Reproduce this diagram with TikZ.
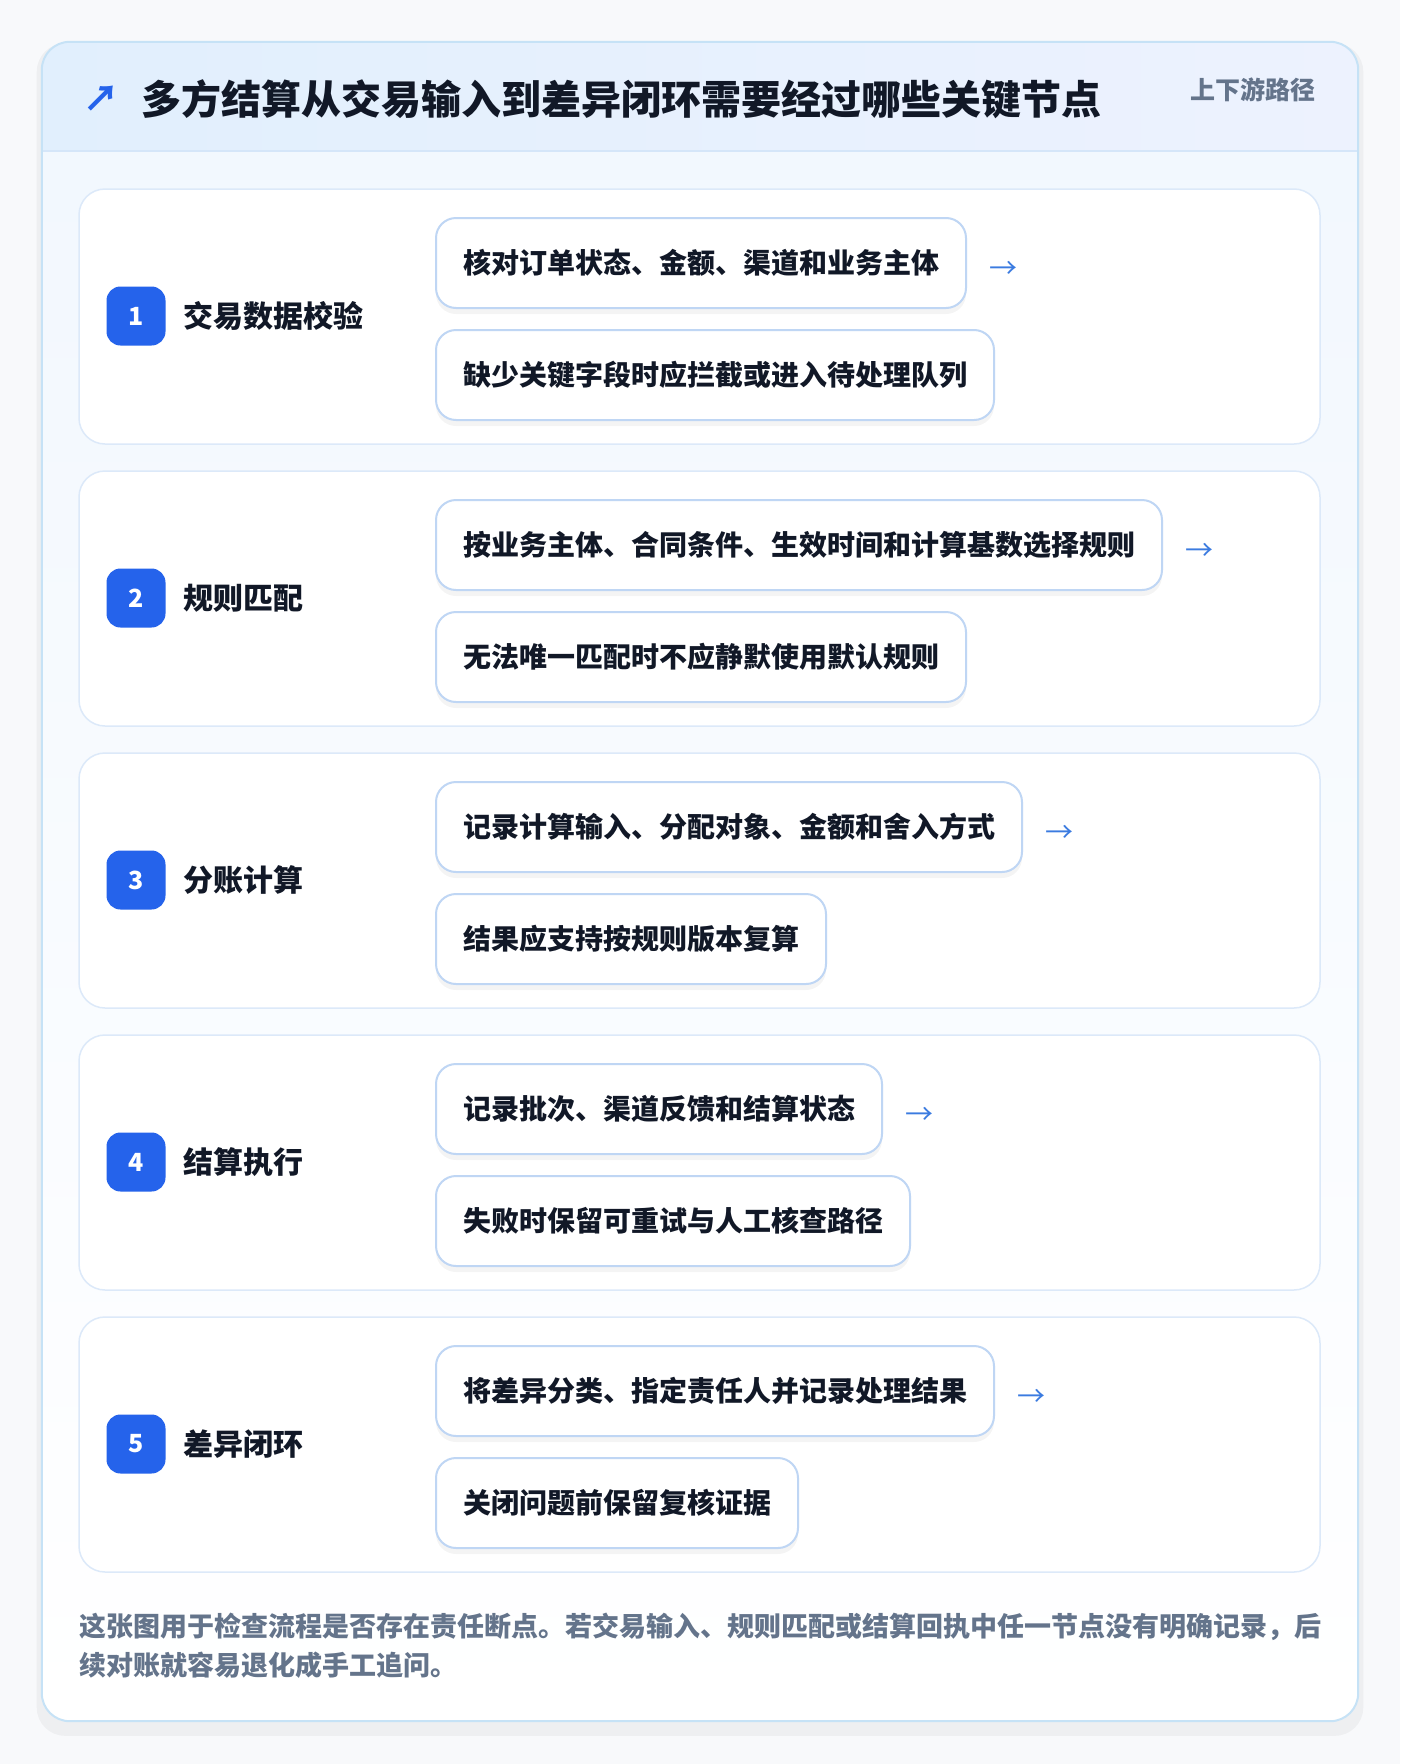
\documentclass[tikz,border=0pt]{standalone}
\usepackage{fontspec}
\setmainfont{Noto Sans CJK SC}
\usetikzlibrary{positioning, arrows.meta, shadows}

\definecolor{pagebg}{HTML}{F8F9FB}
\definecolor{frameline}{HTML}{C6E2F6}
\definecolor{headleft}{HTML}{E1EFFD}
\definecolor{headright}{HTML}{EDF2FE}
\definecolor{headline}{HTML}{D5E6F9}
\definecolor{bodytop}{HTML}{F1F7FE}
\definecolor{cardline}{HTML}{DCE9F9}
\definecolor{boxline}{HTML}{BFD6F4}
\definecolor{badgeblue}{HTML}{2563EB}
\definecolor{ink}{HTML}{111827}
\definecolor{arrowblue}{HTML}{3B7BE0}
\definecolor{muted}{HTML}{64748B}

\begin{document}
\begin{tikzpicture}[x=1pt, y=1pt,
		frame/.style={rectangle, inner sep=0pt, minimum width=1316pt, minimum height=1679pt, rounded corners=28pt, top color=bodytop, bottom color=white, general shadow={shadow xshift=0pt, shadow yshift=-8pt, shadow scale=1.008, fill=black, opacity=0.04}},
		stepcard/.style={rectangle, draw=cardline, line width=1.5pt, fill=white, rounded corners=26pt, minimum width=1241pt, minimum height=255pt, inner sep=0pt},
		badge/.style={rectangle, fill=badgeblue, rounded corners=14pt, minimum size=59pt, inner sep=0pt, text=white, font=\fontsize{25}{30}\selectfont\bfseries},
		steptitle/.style={anchor=west, inner sep=0pt, text=ink, font=\fontsize{30}{36}\selectfont\bfseries},
		detail/.style={rectangle, draw=boxline, line width=2pt, fill=white, rounded corners=20pt, minimum height=90pt, inner xsep=27pt, inner ysep=0pt, text=ink, font=\fontsize{28}{34}\selectfont\bfseries, general shadow={shadow xshift=0pt, shadow yshift=-6pt, fill=black, opacity=0.045}},
		flowarrow/.style={inner sep=0pt, text=arrowblue, font=\fontsize{28}{34}\selectfont},
		headtitle/.style={anchor=west, inner sep=0pt, text=ink, font=\fontsize{40}{48}\selectfont\bfseries},
		headtag/.style={anchor=east, inner sep=0pt, text=muted, font=\fontsize{25}{30}\selectfont\bfseries},
		note/.style={anchor=north west, inner sep=0pt, align=left, text=muted, font=\fontsize{27}{39}\selectfont\bfseries}
	]

	\useasboundingbox (0,0) rectangle (1400,-1764);
	\fill[pagebg] (0,0) rectangle (1400,-1764);

	% outer card and header band
	\node[frame] (frame) at (700,-881.5) {};
	\begin{scope}
		\clip[rounded corners=28pt] (frame.north west) rectangle (frame.south east);
		\fill[left color=headleft, right color=headright] (frame.north west) rectangle (frame.east |- 0,-151);
	\end{scope}
	\draw[headline, line width=1.5pt] (frame.west |- 0,-151) -- (frame.east |- 0,-151);
	\draw[frameline, line width=2pt, rounded corners=28pt] (frame.north west) rectangle (frame.south east);

	\node[inner sep=0pt, text=badgeblue, font=\fontsize{36}{40}\selectfont\bfseries] (icon) at (101,-99) {↗};
	\node[headtitle] (title) at (141,-99) {多方结算从交易输入到差异闭环需要经过哪些关键节点};
	\node[headtag] (tag) at (1316,-90) {上下游路径};

	% five steps
	\foreach \n/\name/\ta/\tb [count=\k from 0] in {
		1/交易数据校验/核对订单状态、金额、渠道和业务主体/缺少关键字段时应拦截或进入待处理队列,
		2/规则匹配/按业务主体、合同条件、生效时间和计算基数选择规则/无法唯一匹配时不应静默使用默认规则,
		3/分账计算/记录计算输入、分配对象、金额和舍入方式/结果应支持按规则版本复算,
		4/结算执行/记录批次、渠道反馈和结算状态/失败时保留可重试与人工核查路径,
		5/差异闭环/将差异分类、指定责任人并记录处理结果/关闭问题前保留复核证据}
	{
		\node[stepcard] (card\n) at (699.5,-316.5-282*\k) {};
		\node[badge] (badge\n) at (136,-316-282*\k) {\n};
		\node[steptitle, right=18pt of badge\n] (name\n) {\name};
		\node[detail, anchor=north west] (first\n) at (435,-217-282*\k) {\ta};
		\node[detail, below right=20pt and 0pt of first\n.south west] (second\n) {\tb};
		\node[flowarrow, right=22pt of first\n, yshift=-7pt] (arrow\n) {→};
	}

	\node[note] (note) at (79,-1613) {这张图用于检查流程是否存在责任断点。若交易输入、规则匹配或结算回执中任一节点没有明确记录，后\\续对账就容易退化成手工追问。};

\end{tikzpicture}
\end{document}
